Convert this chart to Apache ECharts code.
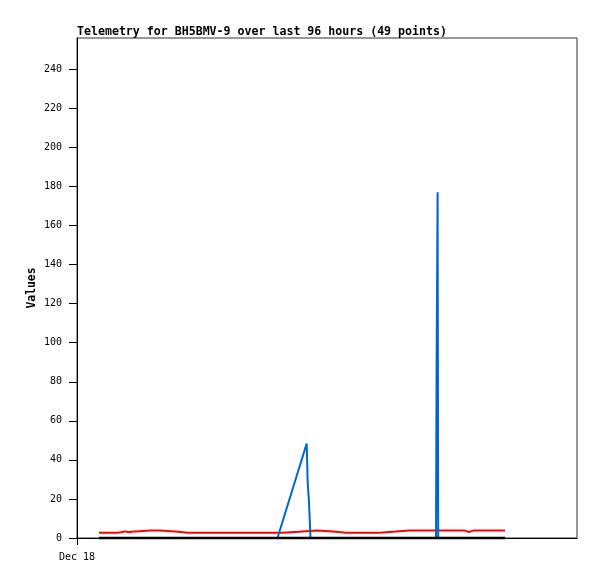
<!DOCTYPE html>
<html>
<head>
<meta charset="utf-8">
<script src="https://cdn.jsdelivr.net/npm/echarts@6/dist/echarts.min.js"></script>
<style>html,body{margin:0;padding:0;background:#fff;}#c{width:597px;height:579px;}</style>
</head>
<body>
<div id="c"></div>
<script>
// Hours since Dec 18 00:00
var times = [1.056,1.584,1.92,2.016,2.112,2.208,2.304,2.4,2.496,2.592,2.688,2.832,2.928,3.504,3.984,4.08,4.704,4.8,5.328,5.904,6.48,7.104,7.728,8.304,8.928,9.6,9.84,9.936,10.656,10.752,11.52,11.616,12.288,12.384,12.912,13.488,14.064,14.544,14.64,15.312,15.408,15.936,16.464,17.424,18.624,18.816,19.008,19.824,20.544];
var redValues = [2.7,2.7,2.7,3.7,2.9,3.7,3.4,3.7,2.9,2.9,3.3,3.3,3.8,3.8,3.8,3.3,3.3,2.7,2.7,2.7,2.7,2.7,2.7,2.7,2.7,2.7,2.7,3.2,3.2,3.8,3.8,3.3,3.3,2.7,2.7,2.7,2.7,2.7,3.3,3.3,3.8,3.8,3.8,3.8,3.8,3.0,3.8,3.8,3.8];
var blackValues = [0,0,0,0,0,0,0,0,0,0,0,0,0,0,0,0,0,0,0,0,0,0,0,0,0,0,0,0,0,0,0,0,0,0,0,0,0,0,0,0,0,0,0,0,0,0,0,0,0];
var blueTimes = [9.624,11.026,11.069,11.136,11.208,17.232,17.261,17.309,17.338,20.496];
var blueValues = [0,48.4,29.5,18.2,0,0,88.5,177,0,0];
var yTicks = [0,20,40,60,80,100,120,140,160,180,200,220,240];
var xTickValues = [0];
var xTickLabels = ['Dec 18'];
var titleText = 'Telemetry for BH5BMV-9 over last 96 hours (49 points)';

function pairs(xs, ys){ return xs.map(function(x,i){ return [x, ys[i]]; }); }

var chart = echarts.init(document.getElementById('c'), null, {renderer:'canvas'});
var mono = 'DejaVu Sans Mono';
chart.setOption({
  animation: false,
  backgroundColor: '#fff',
  title: {
    text: titleText, left: 77, top: 26, padding: 0,
    textStyle: {fontFamily: mono, fontSize: 11.6, fontWeight: 'bold', color: '#000'}
  },
  grid: {left: 77, right: 20, top: 38, bottom: 41, show: true, borderColor: '#333', borderWidth: 1, backgroundColor: '#fff'},
  xAxis: {
    type: 'value', min: 0, max: 24,
    axisLine: {show: true, lineStyle: {color: '#000', width: 1}},
    axisTick: {show: true, customValues: xTickValues, length: 7, lineStyle: {color: '#000'}},
    axisLabel: {show: true, customValues: xTickValues, margin: 14, fontFamily: mono, fontSize: 10, color: '#000',
      formatter: function(v){ var i = xTickValues.indexOf(v); return i >= 0 ? xTickLabels[i] : ''; }},
    splitLine: {show: false}
  },
  yAxis: {
    type: 'value', min: 0, max: 256,
    name: 'Values', nameLocation: 'middle', nameGap: 39, nameRotate: 90, nameMoveOverlap: false,
    nameTextStyle: {fontFamily: mono, fontSize: 11.4, fontWeight: 'bold', color: '#000'},
    axisLine: {show: true, lineStyle: {color: '#000', width: 1}},
    axisTick: {show: true, customValues: yTicks, length: 8, lineStyle: {color: '#000'}},
    axisLabel: {show: true, customValues: yTicks, margin: 15, fontFamily: mono, fontSize: 10, color: '#000'},
    splitLine: {show: false}
  },
  series: [
    {type: 'line', clip: false, data: pairs(times, redValues), showSymbol: false, symbol: 'none', lineStyle: {color: '#ff0000', width: 2}, itemStyle: {color: '#ff0000'}},
    {type: 'line', clip: false, data: pairs(blueTimes, blueValues), showSymbol: false, symbol: 'none', lineStyle: {color: '#0066cc', width: 2}, itemStyle: {color: '#0066cc'}},
    {type: 'line', clip: false, data: pairs(times, blackValues), showSymbol: false, symbol: 'none', lineStyle: {color: '#000000', width: 2.5}, itemStyle: {color: '#000'}}
  ]
});
</script>
</body>
</html>
